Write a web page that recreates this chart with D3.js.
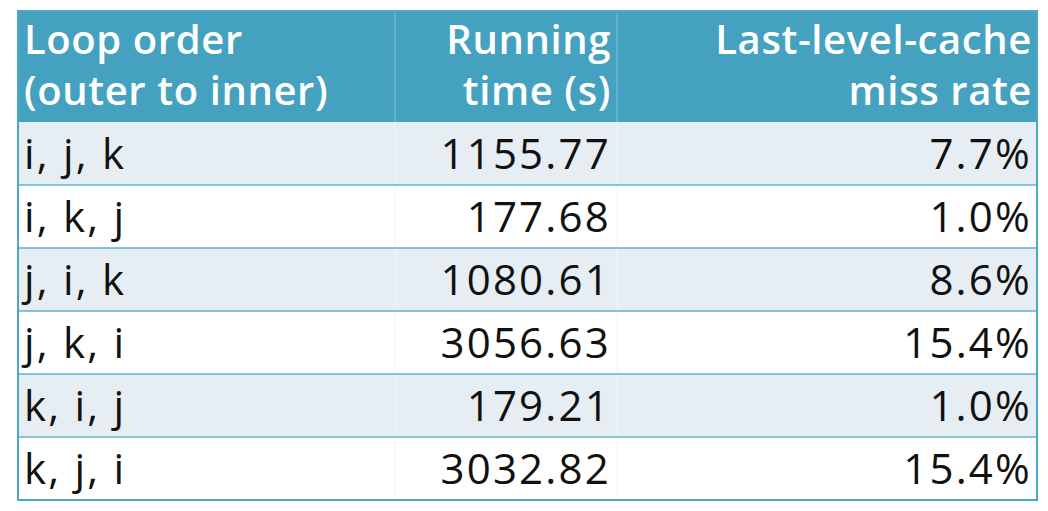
<!DOCTYPE html>
<html><head><meta charset="utf-8">
<script src="https://cdn.jsdelivr.net/npm/d3@7"></script>
<style>body{margin:0;background:#fff}</style>
</head><body>
<script>
var headers = [["Loop order", "(outer to inner)"], ["Running", "time (s)"], ["Last-level-cache", "miss rate"]];
var orders = ["i, j, k", "i, k, j", "j, i, k", "j, k, i", "k, i, j", "k, j, i"];
var times = ["1155.77", "177.68", "1080.61", "3056.63", "179.21", "3032.82"];
var missRates = ["7.7%", "1.0%", "8.6%", "15.4%", "1.0%", "15.4%"];

var W = 1048, H = 511, left = 18, right = 1037, tableTop = 11, headBottom = 122, bottom = 500;
var colEdges = [left, 395, 617, right];
var svg = d3.select("body").append("svg").attr("width", W).attr("height", H)
  .style("font-family", "'Open Sans', sans-serif");

var y = d3.scaleBand().domain(d3.range(orders.length)).range([headBottom, bottom]);

svg.append("rect").attr("x", left).attr("y", tableTop).attr("width", right - left)
  .attr("height", headBottom - tableTop).attr("fill", "#44A2C0");

svg.selectAll("rect.row").data(orders).enter().append("rect")
  .attr("x", left).attr("y", function (d, i) { return y(i); })
  .attr("width", right - left).attr("height", y.bandwidth())
  .attr("fill", function (d, i) { return i % 2 ? "#fff" : "#E6EEF4"; });

// column separators
colEdges.slice(1, 3).forEach(function (cx) {
  svg.append("line").attr("x1", cx).attr("x2", cx).attr("y1", tableTop + 2).attr("y2", headBottom)
    .attr("stroke", "#7CC0D6").attr("stroke-width", 1);
  svg.append("line").attr("x1", cx).attr("x2", cx).attr("y1", headBottom).attr("y2", bottom)
    .attr("stroke", "#F0F4F7").attr("stroke-width", 1);
});

// row lines
svg.selectAll("line.rl").data(d3.range(1, orders.length)).enter().append("line")
  .attr("x1", left).attr("x2", right)
  .attr("y1", function (i) { return y(i); }).attr("y2", function (i) { return y(i); })
  .attr("stroke", "#5DB3CC").attr("stroke-width", 1.5);

svg.append("rect").attr("x", left).attr("y", tableTop).attr("width", right - left)
  .attr("height", bottom - tableTop).attr("fill", "none").attr("stroke", "#4BA8C6").attr("stroke-width", 2);

// header text
var hx = [{x: 24, a: "start"}, {x: 611, a: "end"}, {x: 1032, a: "end"}];
headers.forEach(function (lines, c) {
  lines.forEach(function (t, k) {
    svg.append("text").attr("x", hx[c].x).attr("y", 54 + k * 51)
      .attr("text-anchor", hx[c].a).attr("fill", "#fff")
      .attr("font-size", 40).attr("font-weight", 600).attr("letter-spacing", 0.6).text(t);
  });
});

var cols = [orders, times, missRates];
cols.forEach(function (vals, c) {
  svg.selectAll("text.c" + c).data(vals).enter().append("text")
    .attr("x", hx[c].x).attr("text-anchor", hx[c].a)
    .attr("y", function (d, i) { return y(i) + y.bandwidth() / 2 + 15; })
    .attr("font-size", 42).attr("letter-spacing", 2.2).attr("fill", "#111")
    .text(function (d) { return d; });
});
</script>
</body></html>
